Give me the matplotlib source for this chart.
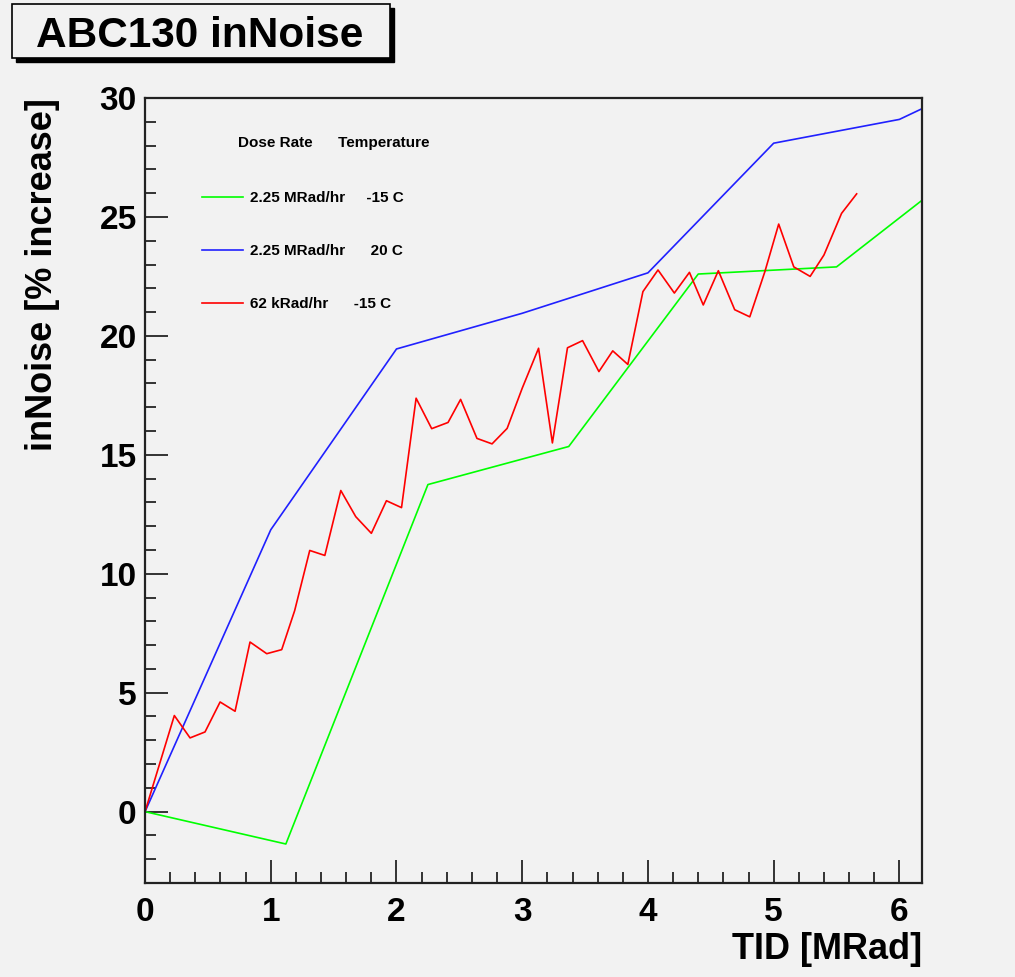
import matplotlib
matplotlib.use('Agg')
import matplotlib.pyplot as plt
from matplotlib.patches import Rectangle
from matplotlib.ticker import MultipleLocator

# TID [MRad] vs inNoise [% increase]
green_x = [0, 1.12, 2.25, 3.37, 4.40, 5.50, 6.18]
green_y = [0, -1.36, 13.75, 15.35, 22.6, 22.9, 25.7]

blue_x = [0, 1.0, 2.0, 3.0, 4.0, 5.0, 6.0, 6.18]
blue_y = [0, 11.85, 19.45, 20.95, 22.65, 28.1, 29.1, 29.55]

red_x = [0, 0.233, 0.358, 0.477, 0.597, 0.716, 0.835, 0.968, 1.087, 1.19,
         1.31, 1.43, 1.557, 1.676, 1.80, 1.92, 2.04, 2.156, 2.28, 2.41,
         2.51, 2.64, 2.76, 2.88, 3.0, 3.13, 3.24, 3.36, 3.48, 3.61,
         3.72, 3.84, 3.96, 4.08, 4.21, 4.33, 4.44, 4.56, 4.69, 4.81,
         4.93, 5.04, 5.16, 5.29, 5.40, 5.54, 5.66]
red_y = [0, 4.04, 3.10, 3.35, 4.61, 4.22, 7.13, 6.64, 6.81, 8.45,
         10.98, 10.77, 13.5, 12.4, 11.7, 13.07, 12.78, 17.38, 16.1, 16.36,
         17.33, 15.69, 15.46, 16.11, 17.8, 19.48, 15.5, 19.5, 19.8, 18.5,
         19.37, 18.8, 21.86, 22.77, 21.8, 22.67, 21.3, 22.74, 21.1, 20.8,
         22.7, 24.7, 22.9, 22.5, 23.4, 25.15, 25.97]

labels = ['2.25 MRad/hr     -15 C', '2.25 MRad/hr      20 C', '62 kRad/hr      -15 C']

plt.rcParams['font.family'] = ['Liberation Sans', 'DejaVu Sans']
plt.rcParams['font.weight'] = 'bold'

bg = '#f2f2f2'
fig = plt.figure(figsize=(10.15, 9.77), dpi=100, facecolor=bg)
ax = fig.add_axes([0.1429, 0.0962, 0.7655, 0.8035], facecolor=bg)

ax.plot(green_x, green_y, color='#00ff00', lw=1.2, label=labels[0])
ax.plot(blue_x, blue_y, color='#2020ff', lw=1.2, label=labels[1])
ax.plot(red_x, red_y, color='#ff0000', lw=1.2, label=labels[2])

ax.set_xlim(0, 6.18)
ax.set_ylim(-3, 30)
ax.xaxis.set_major_locator(MultipleLocator(1))
ax.xaxis.set_minor_locator(MultipleLocator(0.2))
ax.yaxis.set_major_locator(MultipleLocator(5))
ax.yaxis.set_minor_locator(MultipleLocator(1))
ax.tick_params(which='both', direction='in', top=False, right=False, width=1.1, labelsize=24)
ax.tick_params(which='major', length=16.5)
ax.tick_params(which='minor', length=8)
ax.tick_params(axis='x', pad=10)
ax.tick_params(axis='y', pad=6)
for s in ax.spines.values():
    s.set_linewidth(1.6)
    s.set_color('#222222')

ax.set_xlabel('TID [MRad]', fontsize=26, fontweight='bold', loc='right')
ax.xaxis.set_label_coords(1.0, -0.062)
ax.set_ylabel('inNoise [% increase]', fontsize=26, fontweight='bold', loc='top')
ax.yaxis.set_label_coords(-0.109, 1.0)

ax.text(0.12, 0.951, 'Dose Rate      Temperature', transform=ax.transAxes,
        fontsize=11, fontweight='bold', va='top', ha='left')
ax.legend(loc='upper left', bbox_to_anchor=(0.055, 0.899), frameon=False,
          fontsize=11, handlelength=2.7, handletextpad=0.5, labelspacing=2.55)

# title box with shadow
fig.patches.append(Rectangle((16 / 1015, 1 - 62 / 977), 378 / 1015, 54 / 977,
                             transform=fig.transFigure, facecolor='black', edgecolor='black', zorder=1))
fig.patches.append(Rectangle((12 / 1015, 1 - 58 / 977), 378 / 1015, 54 / 977,
                             transform=fig.transFigure, facecolor=bg, edgecolor='black', lw=1.2, zorder=2))
fig.text(0.197, 1 - 47 / 977, 'ABC130 inNoise', fontsize=30.5, fontweight='bold',
         ha='center', va='baseline', zorder=3)

fig.savefig('out.png', dpi=100, facecolor=bg)
